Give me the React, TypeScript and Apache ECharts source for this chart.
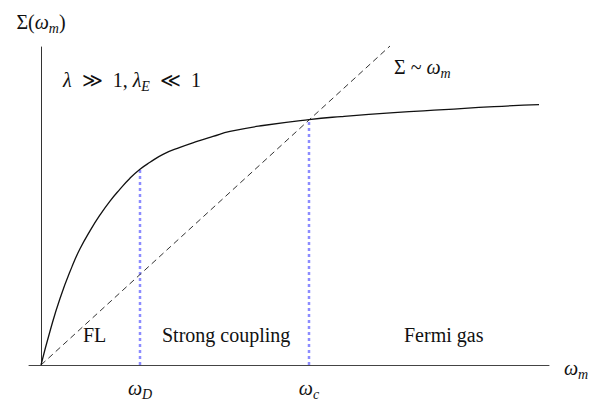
import React, { useEffect, useRef } from "react";
import * as echarts from "echarts";

// Σ(ω_m) curve (units: arbitrary, 1 unit = 100px)
const omega: number[] = [0, 0.09, 0.19, 0.31, 0.39, 0.49, 0.59, 0.69, 0.79, 0.89, 0.99, 1.09, 1.22, 1.39, 1.56, 1.72, 1.89, 2.22, 2.68, 3.0, 3.53, 4.03, 4.53, 4.98];
const sigma: number[] = [0, 0.34, 0.67, 0.99, 1.17, 1.35, 1.51, 1.65, 1.77, 1.88, 1.97, 2.04, 2.12, 2.19, 2.25, 2.3, 2.35, 2.41, 2.47, 2.5, 2.54, 2.57, 2.6, 2.62];

// Linear Σ ~ ω_m line
const linearOmega: number[] = [0, 3.49];
const linearSigma: number[] = [0, 3.21];

// Crossover scales
const crossoverOmega: number[] = [0.99, 2.68];
const crossoverSigma: number[] = [1.97, 2.47];
const crossoverSubs: string[] = ["D", "c"];

// Region labels
const regionLabels: string[] = ["FL", "Strong coupling", "Fermi gas"];

const X_MIN = -0.12;
const X_MAX = 5.08;
const Y_MAX = 3.2;

const FONT = "Liberation Serif";
const TXT = "#111";
const SP = "\u00a0";
const SP2 = "\u00a0\u00a0";

const rich = {
  n: { fontFamily: FONT, fontSize: 20, color: TXT, lineHeight: 26 },
  i: { fontFamily: FONT, fontSize: 20, fontStyle: "italic", color: TXT, lineHeight: 26 },
  s: { fontFamily: FONT, fontSize: 14, fontStyle: "italic", color: TXT, lineHeight: 14, verticalAlign: "bottom" },
};

export default function App() {
  const ref = useRef<HTMLDivElement>(null);

  useEffect(() => {
    if (!ref.current) return;
    const chart = echarts.init(ref.current, undefined, { renderer: "svg" });

    const curve = omega.map((x, k) => [x, sigma[k]]);
    const linear = linearOmega.map((x, k) => [x, linearSigma[k]]);

    const crossoverSeries = crossoverOmega.map((x, k) => ({
      type: "line",
      data: [
        [x, 0],
        [x, crossoverSigma[k]],
      ],
      symbol: "none",
      clip: false,
      z: 1,
      lineStyle: { color: "#8c8cff", width: 2.5, type: [3, 3] },
    }));

    const textEl = (x: number, y: number, text: string) => ({
      type: "text",
      style: { x, y, text, rich, fontFamily: FONT, fontSize: 20, fill: TXT, textAlign: "left", verticalAlign: "middle" },
    });

    chart.setOption({
      animation: false,
      backgroundColor: "#fff",
      textStyle: { fontFamily: FONT },
      grid: { left: 29, right: 45, top: 47, bottom: 34 },
      xAxis: {
        type: "value",
        min: X_MIN,
        max: X_MAX,
        name: "{i|ω}{s|m}",
        nameLocation: "end",
        nameGap: 15,
        nameTextStyle: { rich, fontFamily: FONT, padding: [6, 0, 0, 0] },
        axisLine: { show: true, lineStyle: { color: "#444", width: 1 } },
        axisTick: { show: false },
        splitLine: { show: false },
        axisLabel: {
          customValues: crossoverOmega,
          margin: 10,
          fontFamily: FONT,
          formatter: (v: number) => {
            const k = crossoverOmega.indexOf(v);
            return k >= 0 ? `{i|ω}{s|${crossoverSubs[k]}}` : "";
          },
          rich,
        },
      },
      yAxis: {
        type: "value",
        min: 0,
        max: Y_MAX,
        name: "{n|Σ(}{i|ω}{s|m}{n|)}",
        nameLocation: "end",
        nameGap: 12,
        nameTextStyle: { rich, fontFamily: FONT },
        axisLine: { show: true, onZero: true, lineStyle: { color: "#333", width: 1 } },
        axisTick: { show: false },
        axisLabel: { show: false },
        splitLine: { show: false },
      },
      series: [
        {
          type: "line",
          data: curve,
          smooth: 0.5,
          symbol: "none",
          clip: false,
          z: 3,
          lineStyle: { color: "#111", width: 1.3 },
        },
        {
          type: "line",
          data: linear,
          symbol: "none",
          clip: false,
          z: 2,
          lineStyle: { color: "#333", width: 1, type: [6, 4] },
        },
        ...crossoverSeries,
      ],
      graphic: [
        textEl(63, 80, `{i|λ}{n|${SP2}≫${SP2}1,${SP}}{i|λ}{s|E}{n|${SP2}≪${SP2}1}`),
        textEl(394, 67, `{n|Σ${SP}~${SP}}{i|ω}{s|m}`),
        textEl(83, 335, `{n|${regionLabels[0]}}`),
        textEl(162, 335, `{n|${regionLabels[1]}}`),
        textEl(404, 335, `{n|${regionLabels[2]}}`),
      ],
    });

    return () => chart.dispose();
  }, []);

  return (
    <div
      ref={ref}
      style={{ position: "fixed", left: 0, top: 0, width: 594, height: 401, background: "#fff" }}
    />
  );
}
